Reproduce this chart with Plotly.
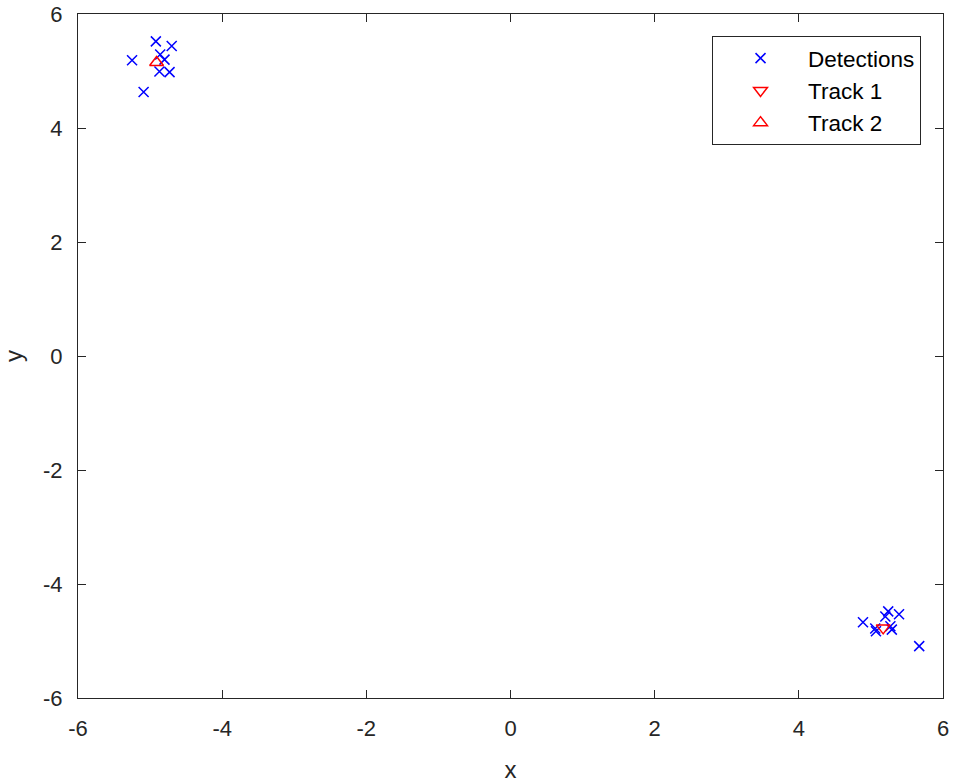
import plotly.graph_objects as go

det_x = [-4.92, -4.70, -5.25, -4.86, -4.80, -4.87, -4.73, -5.09,
         5.24, 5.39, 5.20, 4.89, 5.06, 5.07, 5.29, 5.27, 5.67]
det_y = [5.52, 5.44, 5.19, 5.29, 5.20, 4.99, 4.98, 4.63,
         -4.48, -4.53, -4.57, -4.67, -4.78, -4.83, -4.80, -4.74, -5.09]
track1_x = [5.17]
track1_y = [-4.77]
track2_x = [-4.91]
track2_y = [5.15]
ticks = [-6, -4, -2, 0, 2, 4, 6]
tick_labels = ["-6", "-4", "-2", "0", "2", "4", "6"]

fig = go.Figure()
fig.add_trace(go.Scatter(x=det_x, y=det_y, mode="markers", name="Detections",
                         legendgroup="a",
                         marker=dict(symbol="x-thin", size=10, color="blue",
                                     line=dict(color="blue", width=1.5))))
fig.add_trace(go.Scatter(x=track1_x, y=track1_y, mode="markers", name="Track 1",
                         legendgroup="b",
                         marker=dict(symbol="triangle-down-open", size=12, color="red",
                                     line=dict(color="red", width=1.5))))
fig.add_trace(go.Scatter(x=track2_x, y=track2_y, mode="markers", name="Track 2",
                         legendgroup="c",
                         marker=dict(symbol="triangle-up-open", size=12, color="red",
                                     line=dict(color="red", width=1.5))))

axis_common = dict(range=[-6, 6], tickvals=ticks, ticktext=tick_labels,
                   showgrid=False, zeroline=False, automargin=False,
                   showline=True, linecolor="#262626", linewidth=1, mirror="ticks",
                   ticks="inside", ticklen=8, tickcolor="#262626",
                   tickfont=dict(size=22, color="#262626"))
fig.update_layout(
    width=953, height=783,
    margin=dict(l=78, r=10, t=14, b=85),
    paper_bgcolor="white", plot_bgcolor="white",
    font=dict(family="Liberation Sans, Arial, sans-serif", color="#262626"),
    xaxis=dict(**axis_common, ticklabelstandoff=11,
               title=dict(text="x", font=dict(size=24), standoff=20)),
    yaxis=dict(**axis_common, ticklabelstandoff=10,
               title=dict(text="y", font=dict(size=24), standoff=19)),
    legend=dict(x=0.9746, y=0.9678, xanchor="right", yanchor="top",
                bordercolor="#262626", borderwidth=1, bgcolor="white",
                font=dict(size=22.5, color="#000000"), itemwidth=85,
                traceorder="grouped", tracegroupgap=0),
    showlegend=True,
)
fig.write_html("out.html",
               config={"displayModeBar": False},
               post_script="document.body.style.margin='0px';document.body.style.overflow='hidden';")
